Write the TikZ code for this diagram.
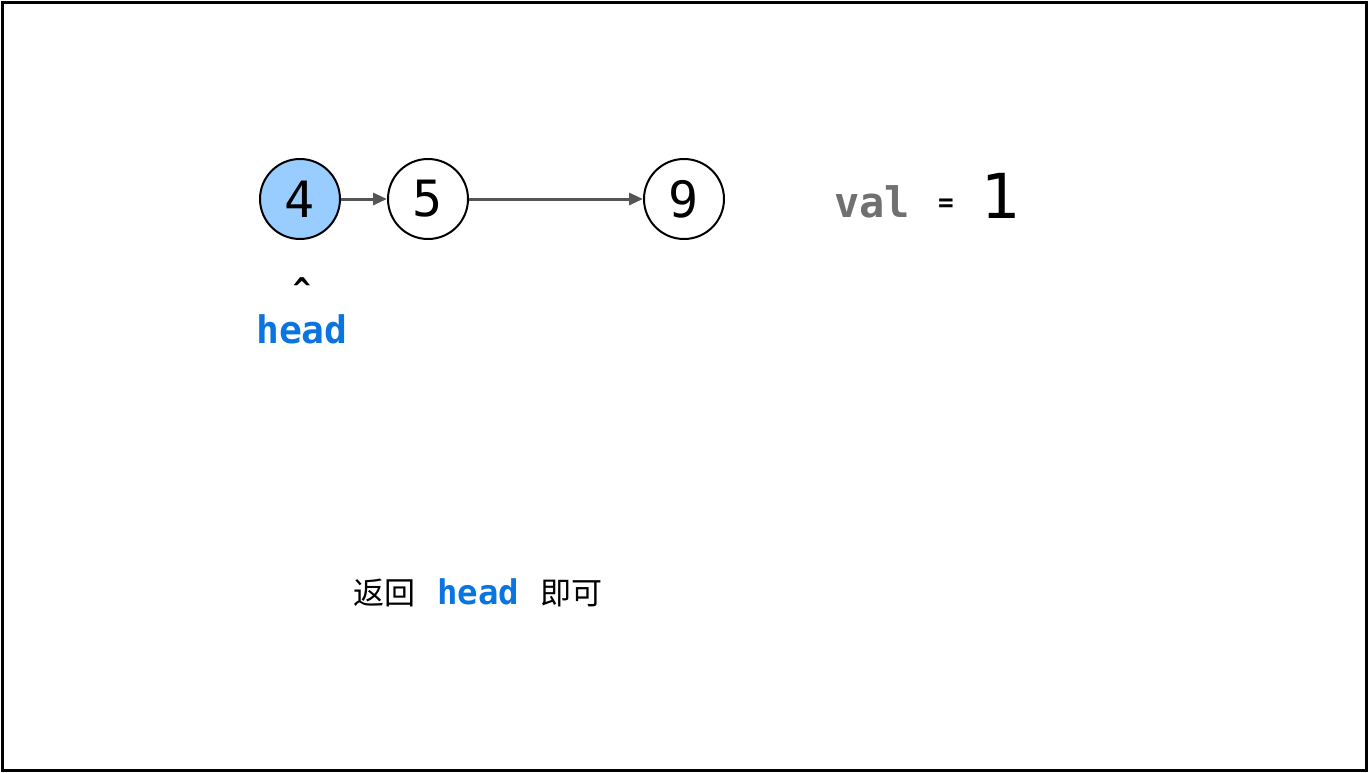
\documentclass[tikz,border=0pt]{standalone}
\usepackage{fontspec}
\setmainfont{DejaVu Sans}
\setmonofont{DejaVu Sans Mono}
\newfontfamily\cjk{Noto Sans CJK SC}
\usetikzlibrary{arrows.meta,positioning}
\definecolor{nodeblue}{HTML}{99CCFF}
\definecolor{headblue}{HTML}{0A74E0}
\definecolor{linkgray}{HTML}{555555}
\definecolor{valgray}{HTML}{707070}
\tikzset{
	listnode/.style={circle,draw,line width=2pt,minimum size=80pt,inner sep=0pt,font=\ttfamily\fontsize{50}{50}\selectfont},
	link/.style={-{Triangle[length=14pt,width=12pt]},draw=linkgray,line width=3pt}
}
\begin{document}
\begin{tikzpicture}[x=1pt,y=1pt]
		\useasboundingbox (0,0) rectangle (1368,-772);
		\draw[line width=3pt] (2,-2) rectangle (1366,-770);
		\node[listnode,fill=nodeblue] (n4) at (300,-199) {4};
		\node[listnode] (n5) at (428,-199) {5};
		\node[listnode] (n9) at (684,-199) {9};
		\draw[link] (n4) -- (n5);
		\draw[link] (n5) -- (n9);
		\node[anchor=base,font=\ttfamily\bfseries\fontsize{42}{42}\selectfont,text=valgray] (val) at (872,-217) {val};
		\node[anchor=base,font=\ttfamily\bfseries\fontsize{26}{26}\selectfont] (eq) at (946,-211) {=};
		\node[anchor=base,font=\fontsize{62}{62}\selectfont] (one) at (1001,-218) {1};
		\node[font=\ttfamily\bfseries\fontsize{30}{30}\selectfont] (caret) at (302,-289) {\^{}};
		\node[anchor=base,font=\ttfamily\bfseries\fontsize{38}{38}\selectfont,text=headblue] (head) at (302,-343) {head};
		\node[anchor=base,font=\fontsize{31}{31}\selectfont] (ret) at (478,-604)
			{{\cjk 返回}\hspace{0.7em}{\ttfamily\bfseries\fontsize{34}{34}\selectfont\color{headblue}head}\hspace{0.7em}{\cjk 即可}};
	\end{tikzpicture}
\end{document}
